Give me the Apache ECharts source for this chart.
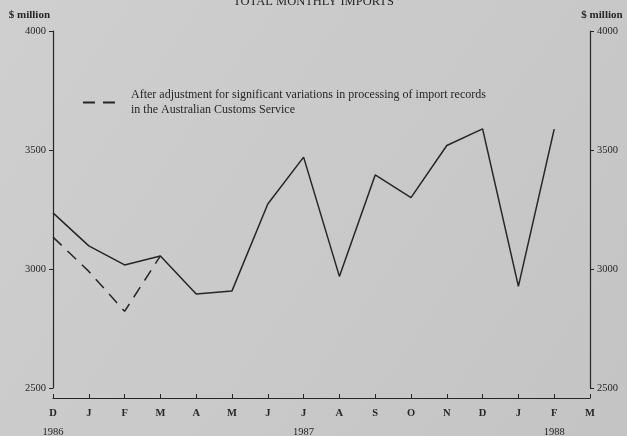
<!DOCTYPE html>
<html>
<head>
<meta charset="utf-8">
<script src="https://cdn.jsdelivr.net/npm/echarts@6/dist/echarts.min.js"></script>
<style>
html,body{margin:0;padding:0;background:#c9c9c9;}
#chart{width:627px;height:436px;}
</style>
</head>
<body>
<div id="chart"></div>
<script>
// Categories (months, Dec 1986 - Mar 1988)
var months = ['D','J','F','M','A','M','J','J','A','S','O','N','D','J','F','M'];
var years  = ['1986','','','','','','','1987','','','','','','','1988',''];
// Total monthly imports, $ million
var totalImports = [3236,3097,3017,3055,2895,2908,3273,3470,2969,3395,3300,3519,3589,2927,3588,null];
// After adjustment for processing variations (Dec 1986 - Mar 1987)
var adjustedImports = [3134,2990,2822,3055,null,null,null,null,null,null,null,null,null,null,null,null];
// Value axis ticks
var yTicks = [2500,3000,3500,4000];

var titleText = 'TOTAL MONTHLY IMPORTS';
var unitText = '$ million';
var adjustedName = 'After adjustment for significant variations in processing of import records\nin the Australian Customs Service';

var serif = '"Liberation Serif", "DejaVu Serif", serif';
var ink = '#262626';

var chart = echarts.init(document.getElementById('chart'), null, {renderer:'canvas'});

function yAxisDef(side){
  return {
    type:'value',
    position: side,
    min: yTicks[0],
    max: yTicks[yTicks.length-1],
    interval: yTicks[1]-yTicks[0],
    name: unitText,
    nameLocation:'end',
    nameGap: 10,
    nameTextStyle:{
      color:ink, fontFamily:serif, fontSize:11, fontWeight:'bold',
      align: side==='left' ? 'right' : 'center',
      padding: side==='left' ? [0,3,0,0] : [0,0,0,24]
    },
    axisLine:{show:true, lineStyle:{color:ink, width:1.2}},
    axisTick:{show:true, length:4, lineStyle:{color:ink, width:1}},
    axisLabel:{color:ink, fontFamily:serif, fontSize:10.5, margin:7,
      formatter:function(v){ return String(v); }},
    splitLine:{show:false}
  };
}

chart.setOption({
  backgroundColor: new echarts.graphic.LinearGradient(0,0,1,1,[
    {offset:0, color:'#cfcfcf'},
    {offset:1, color:'#c4c4c4'}
  ]),
  animation:false,
  title:{
    text:titleText, left:'center', top:-5, padding:0,
    textStyle:{color:ink, fontFamily:serif, fontSize:12.5, fontWeight:'normal'}
  },
  legend:{
    data:[adjustedName],
    left:83, top:87, padding:0,
    itemWidth:32, itemHeight:2,
    icon:'path://M0,0H12V2H0Z M20,0H32V2H20Z',
    itemStyle:{color:ink},
    textStyle:{color:ink, fontFamily:serif, fontSize:12, lineHeight:15.5, padding:[0,0,0,11]}
  },
  grid:{left:53, right:37, top:31, bottom:48, containLabel:false, outerBoundsMode:'none'},
  xAxis:{
    type:'category',
    data:months,
    boundaryGap:false,
    offset:10,
    axisLine:{show:true, lineStyle:{color:ink, width:1.2}},
    axisTick:{show:true, inside:true, length:4, alignWithLabel:true, lineStyle:{color:ink}},
    axisLabel:{
      color:ink, fontFamily:serif, fontSize:10, margin:6, interval:0,
      lineHeight:19,
      formatter:function(v, i){
        return years[i] ? '{m|'+v+'}\n{y|'+years[i]+'}' : '{m|'+v+'}';
      },
      rich:{
        m:{fontFamily:serif, fontSize:10.5, fontWeight:'bold', color:ink, lineHeight:19},
        y:{fontFamily:serif, fontSize:10.5, color:ink, lineHeight:19}
      }
    },
    splitLine:{show:false}
  },
  yAxis:[yAxisDef('left'), yAxisDef('right')],
  series:[
    {
      name:'Total monthly imports',
      type:'line',
      data:totalImports,
      symbol:'none',
      yAxisIndex:0,
      lineStyle:{color:ink, width:1.5},
      itemStyle:{color:ink}
    },
    {
      name:adjustedName,
      type:'line',
      data:adjustedImports,
      symbol:'none',
      yAxisIndex:0,
      lineStyle:{color:ink, width:1.5, type:[12,8]},
      itemStyle:{color:ink}
    }
  ]
});
</script>
</body>
</html>
